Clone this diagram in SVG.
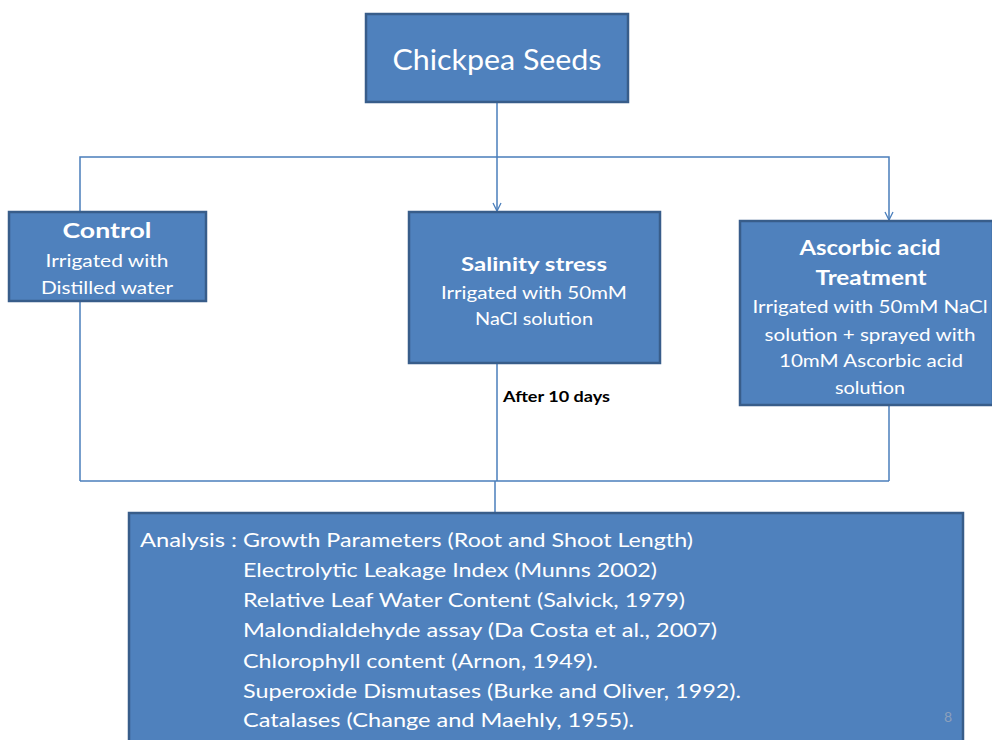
<svg xmlns="http://www.w3.org/2000/svg" width="992" height="740" viewBox="0 0 992 740">
<defs>
<marker id="arr" viewBox="0 0 10 10" refX="9" refY="5" markerWidth="10" markerHeight="10" markerUnits="userSpaceOnUse" orient="auto">
<path d="M1,1 L9,5 L1,9" fill="none" stroke="#4A7EBB" stroke-width="1.3"/>
</marker>
<style>
.box{fill:#4F81BD;stroke:#385D8A;stroke-width:2.5}
.ln{fill:none;stroke:#4A7EBB;stroke-width:1.5}
text{font-family:Lato,"Liberation Sans",sans-serif;fill:#fff}
.b{font-weight:bold}
.c{text-anchor:middle}
.n{font-size:18px}
.h{font-size:21px}
.a{font-size:20px}
</style>
</defs>
<rect width="992" height="740" fill="#fff"/>
<g id="connectors">
<line class="ln" x1="497" y1="102" x2="497" y2="211" marker-end="url(#arr)"/>
<polyline class="ln" points="80,211 80,157 889,157 889,220" marker-end="url(#arr)"/>
<line class="ln" x1="80" y1="301" x2="80" y2="481"/>
<line class="ln" x1="497" y1="363" x2="497" y2="481"/>
<line class="ln" x1="889" y1="405" x2="889" y2="481"/>
<line class="ln" x1="80" y1="481" x2="889" y2="481"/>
<line class="ln" x1="495" y1="481" x2="495" y2="512"/>
<text x="503" y="402" style="font-size:15px;fill:#000" class="b" textLength="107" lengthAdjust="spacingAndGlyphs">After 10 days</text>
</g>
<g id="seeds">
<rect class="box" x="366" y="14" width="262" height="88"/>
<text x="497" y="70" class="c" style="font-size:28px" textLength="209" lengthAdjust="spacingAndGlyphs">Chickpea Seeds</text>
</g>
<g id="control">
<rect class="box" x="9" y="212" width="197" height="89"/>
<text x="107" y="238" class="c b h" textLength="89" lengthAdjust="spacingAndGlyphs">Control</text>
<text x="107" y="267" class="c n" textLength="123" lengthAdjust="spacingAndGlyphs">Irrigated with</text>
<text x="107" y="294" class="c n" textLength="132" lengthAdjust="spacingAndGlyphs">Distilled water</text>
</g>
<g id="salinity">
<rect class="box" x="409" y="212" width="251" height="151"/>
<text x="534" y="271" class="c b n" textLength="146" lengthAdjust="spacingAndGlyphs">Salinity stress</text>
<text x="534" y="299" class="c n" textLength="186" lengthAdjust="spacingAndGlyphs">Irrigated with 50mM</text>
<text x="534" y="325" class="c n" textLength="118" lengthAdjust="spacingAndGlyphs">NaCl solution</text>
</g>
<g id="ascorbic">
<rect class="box" x="740" y="221" width="253" height="184"/>
<text x="870" y="255" class="c b h" textLength="141" lengthAdjust="spacingAndGlyphs">Ascorbic acid</text>
<text x="871" y="285" class="c b h" textLength="111" lengthAdjust="spacingAndGlyphs">Treatment</text>
<text x="870" y="313" class="c n" textLength="235" lengthAdjust="spacingAndGlyphs">Irrigated with 50mM NaCl</text>
<text x="870" y="341" class="c n" textLength="211" lengthAdjust="spacingAndGlyphs">solution + sprayed with</text>
<text x="871" y="367" class="c n" textLength="184" lengthAdjust="spacingAndGlyphs">10mM Ascorbic acid</text>
<text x="870" y="394" class="c n" textLength="70" lengthAdjust="spacingAndGlyphs">solution</text>
</g>
<g id="analysis">
<rect class="box" x="129" y="513" width="834" height="240"/>
<text x="140" y="547" class="a" textLength="97" lengthAdjust="spacingAndGlyphs">Analysis :</text>
<text x="243" y="547" class="a" textLength="450" lengthAdjust="spacingAndGlyphs">Growth Parameters (Root and Shoot Length)</text>
<text x="243" y="577" class="a" textLength="414" lengthAdjust="spacingAndGlyphs">Electrolytic Leakage Index (Munns 2002)</text>
<text x="243" y="607" class="a" textLength="442" lengthAdjust="spacingAndGlyphs">Relative Leaf Water Content (Salvick, 1979)</text>
<text x="243" y="637" class="a" textLength="474" lengthAdjust="spacingAndGlyphs">Malondialdehyde assay (Da Costa et al., 2007)</text>
<text x="243" y="668" class="a" textLength="355" lengthAdjust="spacingAndGlyphs">Chlorophyll content (Arnon,  1949).</text>
<text x="243" y="698" class="a" textLength="498" lengthAdjust="spacingAndGlyphs">Superoxide Dismutases (Burke and Oliver, 1992).</text>
<text x="243" y="727" class="a" textLength="391" lengthAdjust="spacingAndGlyphs">Catalases (Change and Maehly, 1955).</text>
<text x="948" y="722" style="font-size:14px;fill:#8CA0BC" class="c">8</text>
</g>
</svg>
